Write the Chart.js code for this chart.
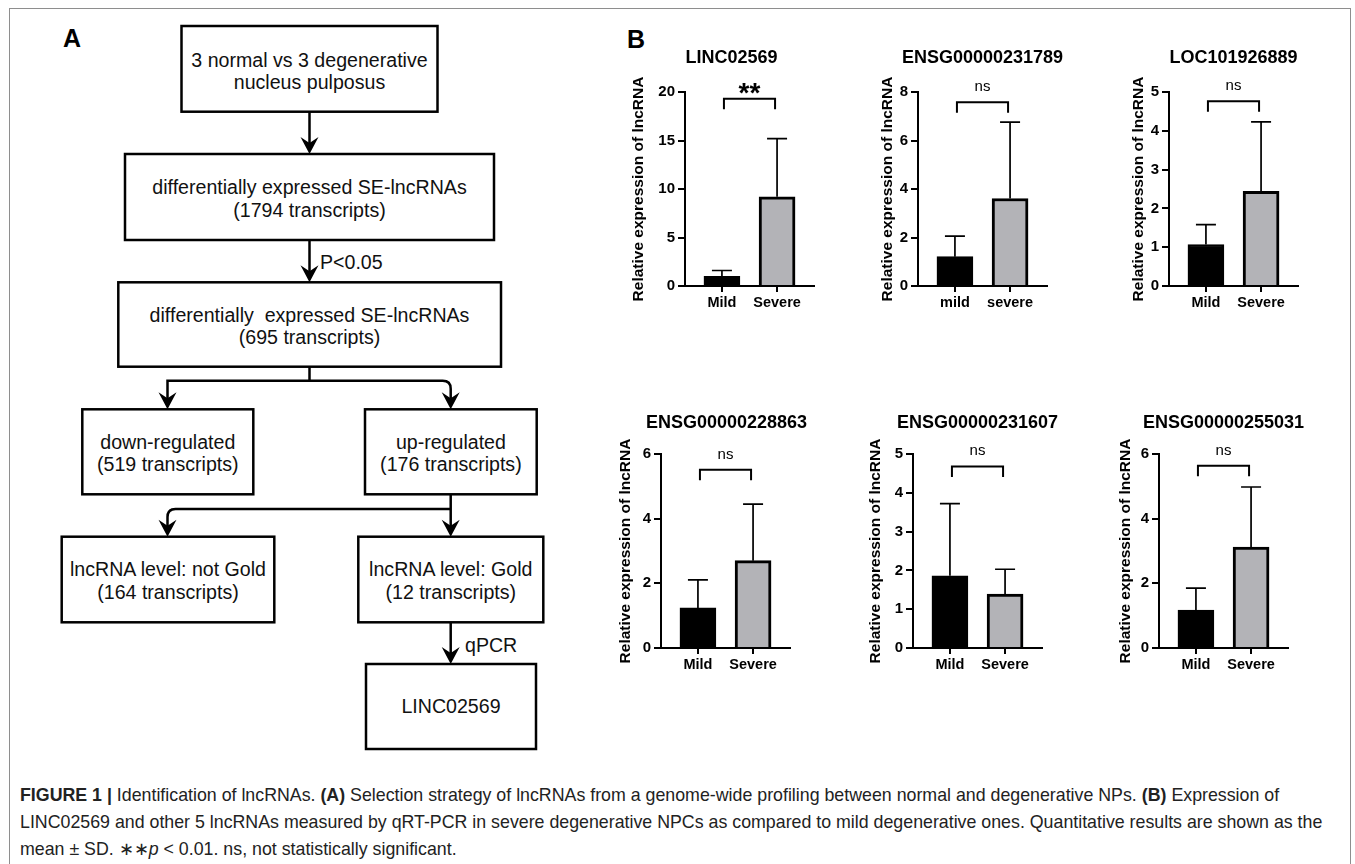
<!DOCTYPE html>
<html><head><meta charset="utf-8">
<script src="https://cdn.jsdelivr.net/npm/chart.js@4.4.1/dist/chart.umd.min.js"></script>
<style>
html,body{margin:0;padding:0;background:#fff;}
body{width:1355px;height:864px;overflow:hidden;position:relative;font-family:"Liberation Sans",Arial,Helvetica,sans-serif;}
#frame{position:absolute;left:9px;top:8px;width:1342px;height:900px;border:1.5px solid #8e8e8e;box-sizing:border-box;}
canvas{position:absolute;}
.cap{position:absolute;left:20px;font-size:17.8px;color:#222;white-space:nowrap;line-height:20px;}
#flow{position:absolute;left:0;top:0;}
.lbl{position:absolute;font-weight:bold;font-size:25px;color:#000;line-height:25px;}
</style></head><body>
<div id="frame"></div>
<div class="lbl" style="left:63px;top:26px;">A</div>
<div class="lbl" style="left:627px;top:27px;">B</div>
<svg id="flow" width="600" height="760" xmlns="http://www.w3.org/2000/svg" font-family="Liberation Sans, Arial, sans-serif" font-size="19.6">
  <g fill="#fff" stroke="#000" stroke-width="2.5">
    <rect x="181.5" y="26" width="256" height="85.7"/>
    <rect x="125" y="154" width="369" height="86"/>
    <rect x="118.3" y="282.3" width="382.7" height="84.4"/>
    <rect x="82.3" y="409.3" width="171" height="85"/>
    <rect x="365" y="409.3" width="171.7" height="85"/>
    <rect x="61.7" y="536.7" width="212.6" height="85.6"/>
    <rect x="358.3" y="536.7" width="185" height="85.6"/>
    <rect x="366" y="664" width="170" height="85"/>
  </g>
  <g fill="none" stroke="#000" stroke-width="2.5">
    <path d="M309.5,111.7 V146"/>
    <path d="M309.5,240 V274"/>
    <path d="M309.5,366.7 V380.7"/>
    <path d="M167.5,401 V380.7 H442.7 Q450.7,380.7 450.7,388.7 V401"/>
    <path d="M450.7,494.3 V528"/>
    <path d="M450.7,509 H175.5 Q167.5,509 167.5,517 V528"/>
    <path d="M450.7,622.3 V656"/>
  </g>
  <g fill="#000">
    <path d="M309.5,154 L300.5,137 L309.5,143 L318.5,137 Z"/>
    <path d="M309.5,282.3 L300.5,265.3 L309.5,271.3 L318.5,265.3 Z"/>
    <path d="M167.5,409.3 L158.5,392.3 L167.5,398.3 L176.5,392.3 Z"/>
    <path d="M450.7,409.3 L441.7,392.3 L450.7,398.3 L459.7,392.3 Z"/>
    <path d="M167.5,536.7 L158.5,519.7 L167.5,525.7 L176.5,519.7 Z"/>
    <path d="M450.7,536.7 L441.7,519.7 L450.7,525.7 L459.7,519.7 Z"/>
    <path d="M450.7,664 L441.7,647 L450.7,653 L459.7,647 Z"/>
  </g>
  <g fill="#111" text-anchor="middle">
    <text x="309.5" y="67">3 normal vs 3 degenerative</text>
    <text x="309.5" y="89">nucleus pulposus</text>
    <text x="309.5" y="193.5">differentially expressed SE-lncRNAs</text>
    <text x="309.5" y="217">(1794 transcripts)</text>
    <text x="309.5" y="322" xml:space="preserve">differentially  expressed SE-lncRNAs</text>
    <text x="309.5" y="344">(695 transcripts)</text>
    <text x="167.8" y="448.5">down-regulated</text>
    <text x="167.8" y="471">(519 transcripts)</text>
    <text x="450.9" y="448.5">up-regulated</text>
    <text x="450.9" y="471">(176 transcripts)</text>
    <text x="168" y="576">lncRNA level: not Gold</text>
    <text x="168" y="599">(164 transcripts)</text>
    <text x="450.8" y="576">lncRNA level: Gold</text>
    <text x="450.8" y="599">(12 transcripts)</text>
    <text x="451" y="713">LINC02569</text>
  </g>
  <g fill="#111">
    <text x="320" y="268.7">P&lt;0.05</text>
    <text x="465" y="652">qPCR</text>
  </g>
</svg>
<div class="cap" style="top:785px;"><b>FIGURE 1 |</b> Identification of lncRNAs. <b>(A)</b> Selection strategy of lncRNAs from a genome-wide profiling between normal and degenerative NPs. <b>(B)</b> Expression of</div>
<div class="cap" style="top:812px;">LINC02569 and other 5 lncRNAs measured by qRT-PCR in severe degenerative NPCs as compared to mild degenerative ones. Quantitative results are shown as the</div>
<div class="cap" style="top:839px;">mean ± SD. ∗∗<i>p</i> &lt; 0.01. ns, not statistically significant.</div>
<script>
// ---- data ----
const genes = ['LINC02569','ENSG00000231789','LOC101926889','ENSG00000228863','ENSG00000231607','ENSG00000255031'];
const groups = [['Mild','Severe'],['mild','severe'],['Mild','Severe'],['Mild','Severe'],['Mild','Severe'],['Mild','Severe']];
const mildMean   = [1.0, 1.21, 1.07, 1.24, 1.86, 1.17];
const mildSD     = [0.6, 0.85, 0.51, 0.87, 1.86, 0.68];
const severeMean = [9.2, 3.61, 2.44, 2.70, 1.39, 3.12];
const severeSD   = [6.0, 3.15, 1.79, 1.75, 0.64, 1.86];
const yMax  = [20, 8, 5, 6, 5, 6];
const yStep = [5, 2, 1, 2, 1, 2];
const sigText = ['**','ns','ns','ns','ns','ns'];
const bracketLevel = [19.3, 7.58, 4.76, 5.51, 4.68, 5.64];

// ---- layout ----
const panelAxisX = [685, 918, 1169, 661, 913, 1159];
const panelTopY  = [92, 92, 92, 454, 454, 454];
const panelYWidth = [56, 40, 40, 45, 47, 43];
const titleShift = [-18, 0, 0, 1, 0, 0];
const titleRise  = [34, 34, 34, 31, 31, 31];
const FONT = '"Liberation Sans", Arial, Helvetica, sans-serif';
Chart.defaults.font.family = FONT;
Chart.defaults.color = '#000';

function makeChart(i){
  const PAD_TOP=50, PLOT_H=194, PLOT_W=129, X_H=30, PAD_L=30, PAD_R=40, PAD_B=4;
  const cv=document.createElement('canvas');
  const w = PAD_L+panelYWidth[i]+PLOT_W+PAD_R, h = PAD_TOP+PLOT_H+X_H+PAD_B;
  cv.width=w; cv.height=h; cv.style.width=w+'px'; cv.style.height=h+'px';
  cv.style.left=(panelAxisX[i]-panelYWidth[i]-PAD_L)+'px';
  cv.style.top=(panelTopY[i]-PAD_TOP)+'px';
  document.body.appendChild(cv);
  const annot = {
    id:'annot'+i,
    afterDatasetsDraw(chart){
      const ctx=chart.ctx, ys=chart.scales.y, meta=chart.getDatasetMeta(0);
      const means=[mildMean[i], severeMean[i]], sds=[mildSD[i], severeSD[i]];
      ctx.save();
      ctx.strokeStyle='#000'; ctx.lineWidth=1.7;
      meta.data.forEach((bar,k)=>{
        const x=bar.x, y0=ys.getPixelForValue(means[k]), y1=ys.getPixelForValue(means[k]+sds[k]);
        ctx.beginPath(); ctx.moveTo(x,y0); ctx.lineTo(x,y1);
        ctx.moveTo(x-10,y1); ctx.lineTo(x+10,y1); ctx.stroke();
      });
      const by=ys.getPixelForValue(bracketLevel[i]);
      const xa=meta.data[0].x+2, xb=meta.data[1].x-2;
      ctx.lineWidth=2;
      ctx.beginPath(); ctx.moveTo(xa,by+10.5); ctx.lineTo(xa,by); ctx.lineTo(xb,by); ctx.lineTo(xb,by+10.5); ctx.stroke();
      ctx.fillStyle='#000'; ctx.textAlign='center'; ctx.textBaseline='alphabetic';
      if(sigText[i]==='**'){ ctx.font='bold 28px '+FONT; ctx.fillText(sigText[i],(xa+xb)/2, by+3); }
      else { ctx.font='15px '+FONT; ctx.fillText(sigText[i],(xa+xb)/2, by-11); }
      ctx.font='bold 18px '+FONT; ctx.textBaseline='middle';
      const ca=chart.chartArea;
      ctx.fillText(genes[i], (ca.left+ca.right)/2+titleShift[i], ca.top-titleRise[i]);
      ctx.restore();
    }
  };
  new Chart(cv, {
    type:'bar',
    data:{datasets:[{
      data:[{x:0,y:mildMean[i]},{x:1,y:severeMean[i]}],
      backgroundColor:['#000','#b3b3b7'], borderColor:'#000', borderWidth:[2,3],
      barThickness:36
    }]},
    options:{
      responsive:false, animation:false, devicePixelRatio:1,
      layout:{padding:{top:PAD_TOP,left:PAD_L,right:PAD_R,bottom:PAD_B}},
      plugins:{legend:{display:false}, tooltip:{enabled:false}, title:{display:false}},
      scales:{
        x:{type:'linear', min:-0.67, max:1.67, offset:false,
           afterBuildTicks:s=>{ s.ticks=[{value:0},{value:1}]; },
           afterFit:s=>{ s.height=X_H; },
           ticks:{callback:(v,k)=>groups[i][k], font:{size:14.5,weight:'bold'}, color:'#000', padding:2, autoSkip:false, maxRotation:0},
           grid:{display:true, offset:false, drawOnChartArea:false, drawTicks:true, tickLength:6, color:'#000', lineWidth:2},
           border:{display:true, color:'#000', width:2}},
        y:{min:0, max:yMax[i],
           afterFit:s=>{ s.width=panelYWidth[i]; },
           ticks:{stepSize:yStep[i], font:{size:15,weight:'bold'}, color:'#000', padding:3},
           grid:{display:true, drawOnChartArea:false, drawTicks:true, tickLength:7, color:'#000', lineWidth:2},
           border:{display:true, color:'#000', width:2},
           title:{display:true, text:'Relative expression of lncRNA', font:{size:15.5, weight:'bold'}, color:'#000', padding:0}}
      }
    },
    plugins:[annot]
  });
}
for(let i=0;i<genes.length;i++) makeChart(i);
</script>
</body></html>
